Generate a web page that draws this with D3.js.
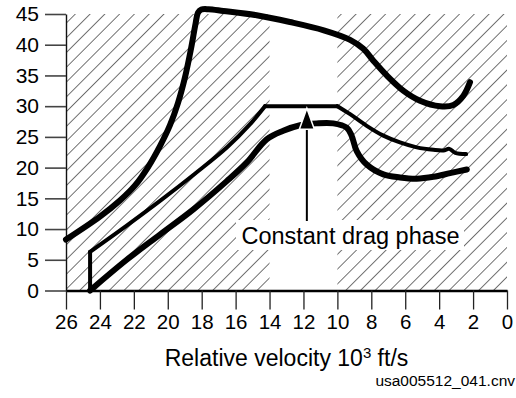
<!DOCTYPE html>
<html>
<head>
<meta charset="utf-8">
<script src="https://cdn.jsdelivr.net/npm/d3@7"></script>
<style>
  html, body { margin: 0; padding: 0; background: #fff; }
  svg { display: block; font-family: "Liberation Sans", Arial, Helvetica, sans-serif; }
</style>
</head>
<body>
<svg id="chart" width="516" height="398"></svg>
<script>
// Axis ticks (relative velocity in 10^3 ft/s, drag acceleration in ft/s^2)
const velocityTicks = [26, 24, 22, 20, 18, 16, 14, 12, 10, 8, 6, 4, 2, 0];
const dragTicks = [0, 5, 10, 15, 20, 25, 30, 35, 40, 45];

// Velocity bands shaded as outside the constant drag phase
const hatchedBands = [[26, 14], [10, 0]];

// Upper drag limit: [velocity, drag]
const upperBoundary = [
  [26.0, 8.3], [24.0, 12.03], [22.82, 14.65], [21.93, 17.1], [21.17, 20.05],
  [20.46, 23.5], [19.87, 26.9], [19.4, 30.5], [18.98, 34.75], [18.63, 39.35],
  [18.36, 43.45], [18.22, 45.2], [18.02, 45.72], [17.6, 45.78], [16.72, 45.5],
  [14.76, 44.8], [12.8, 43.7], [10.8, 42.35], [9.25, 40.8], [8.47, 39.35],
  [7.88, 37.4], [7.09, 35.0], [6.1, 32.5], [5.13, 30.9], [3.95, 30.0],
  [3.16, 30.2], [2.57, 31.7], [2.18, 33.9]
];

// Nominal drag profile, split at its corners
const nominalRise = [[24.58, 0], [24.58, 6.3]];
const nominalClimb = [
  [24.58, 6.3], [22.4, 10.6], [20.4, 14.7], [18.4, 19.0], [16.5, 23.3],
  [15.2, 26.9], [14.27, 30.0]
];
const nominalPlateau = [[14.27, 30.0], [10.0, 30.0]];
const nominalDescent = [
  [10.0, 30.0], [9.25, 28.7], [8.27, 26.8], [7.29, 25.2], [6.31, 24.1],
  [5.32, 23.3], [4.34, 22.9], [3.75, 22.8], [3.4, 23.05], [3.05, 22.4], [2.41, 22.2]
];

// Lower drag limit
const lowerBoundary = [
  [24.58, 0.0], [22.42, 5.0], [20.46, 9.1], [18.49, 13.2], [16.52, 17.8],
  [15.35, 20.8], [14.17, 24.6], [13.19, 26.0], [12.2, 26.9], [11.22, 27.2],
  [10.24, 27.2], [9.45, 26.5], [9.16, 25.2], [8.86, 22.7], [8.27, 20.5],
  [7.29, 18.9], [6.31, 18.4], [5.32, 18.2], [4.34, 18.5], [3.36, 19.1], [2.37, 19.7]
];

// Callout
const calloutText = "Constant drag phase";
const arrowVelocity = 11.8;
const arrowTarget = 30.0;

const svg = d3.select("#chart");

const x = d3.scaleLinear().domain([26, 0]).range([66, 507]);
const y = d3.scaleLinear().domain([0, 45]).range([290.5, 14]);

// Diagonal hatch pattern
const defs = svg.append("defs");
const pat = defs.append("pattern")
  .attr("id", "hatch")
  .attr("patternUnits", "userSpaceOnUse")
  .attr("width", 10.45)
  .attr("height", 10)
  .attr("patternTransform", "rotate(45)");
pat.append("line")
  .attr("x1", 0).attr("y1", -1).attr("x2", 0).attr("y2", 11)
  .attr("stroke", "#000").attr("stroke-width", 1.1);

svg.append("g").selectAll("rect")
  .data(hatchedBands)
  .join("rect")
  .attr("x", d => x(d[0]))
  .attr("width", d => x(d[1]) - x(d[0]))
  .attr("y", y(45))
  .attr("height", y(0) - y(45))
  .attr("fill", "url(#hatch)");

// Callout label with a white backing box
const labelX = 350.5, labelY = 244;
svg.append("rect")
  .attr("x", 236).attr("y", 220).attr("width", 228).attr("height", 30)
  .attr("fill", "#fff");
svg.append("text")
  .attr("x", labelX).attr("y", labelY)
  .attr("text-anchor", "middle")
  .attr("font-size", 23.5)
  .attr("fill", "#000")
  .text(calloutText);

// Axes
const yAxis = svg.append("g")
  .attr("transform", `translate(${x(26)},0)`)
  .call(d3.axisLeft(y).tickValues(dragTicks).tickSize(21).tickSizeOuter(0).tickPadding(6).tickFormat(d3.format("d")));
yAxis.select(".domain").attr("stroke", "#111").attr("stroke-width", 1.4);
yAxis.selectAll(".tick line").attr("stroke", "#444").attr("stroke-width", 1.6);
yAxis.selectAll(".tick text").attr("font-size", 21).attr("fill", "#000")
  .attr("font-family", "\"Liberation Sans\", Arial, sans-serif");

const xAxis = svg.append("g")
  .attr("transform", `translate(0,${y(0)})`)
  .call(d3.axisBottom(x).tickValues(velocityTicks).tickSize(19).tickSizeOuter(0).tickPadding(5).tickFormat(d3.format("d")));
xAxis.select(".domain").attr("stroke", "#000").attr("stroke-width", 2.5);
xAxis.selectAll(".tick line").attr("stroke", "#222").attr("stroke-width", 1.3);
xAxis.selectAll(".tick text").attr("font-size", 20.5).attr("fill", "#000")
  .attr("font-family", "\"Liberation Sans\", Arial, sans-serif");

// Axis title
const title = svg.append("text")
  .attr("x", (x(26) + x(0)) / 2)
  .attr("y", 366)
  .attr("text-anchor", "middle")
  .attr("font-size", 23)
  .attr("fill", "#000");
title.append("tspan").text("Relative velocity 10");
title.append("tspan").attr("dy", -8).attr("font-size", 15).text("3");
title.append("tspan").attr("dy", 8).text(" ft/s");

// Source tag
svg.append("text")
  .attr("x", 515).attr("y", 386)
  .attr("text-anchor", "end")
  .attr("font-size", 15.5)
  .attr("fill", "#000")
  .text("usa005512_041.cnv");

// Curves
const smooth = d3.line().x(d => x(d[0])).y(d => y(d[1])).curve(d3.curveCatmullRom.alpha(0.5));
const straight = d3.line().x(d => x(d[0])).y(d => y(d[1]));

const curves = svg.append("g")
  .attr("fill", "none")
  .attr("stroke", "#000")
  .attr("stroke-linecap", "round")
  .attr("stroke-linejoin", "round");

curves.append("path").attr("d", smooth(upperBoundary)).attr("stroke-width", 6);
curves.append("path").attr("d", smooth(lowerBoundary)).attr("stroke-width", 6);
curves.append("path").attr("d", straight(nominalRise)).attr("stroke-width", 4);
curves.append("path").attr("d", smooth(nominalClimb)).attr("stroke-width", 4);
curves.append("path").attr("d", straight(nominalPlateau)).attr("stroke-width", 4);
curves.append("path").attr("d", smooth(nominalDescent)).attr("stroke-width", 4);

// Arrow from the label up to the plateau
const ax = x(arrowVelocity);
const tipY = y(arrowTarget) + 2;
const headLen = 21, headHalf = 7.5;
svg.append("line")
  .attr("x1", ax).attr("x2", ax)
  .attr("y1", 221).attr("y2", tipY + headLen - 1)
  .attr("stroke", "#000").attr("stroke-width", 2);
svg.append("path")
  .attr("d", `M${ax},${tipY} L${ax + headHalf},${tipY + headLen} L${ax - headHalf},${tipY + headLen} Z`)
  .attr("fill", "#000")
  .attr("stroke", "#fff")
  .attr("stroke-width", 1.5)
  .attr("stroke-linejoin", "miter");
</script>
</body>
</html>
